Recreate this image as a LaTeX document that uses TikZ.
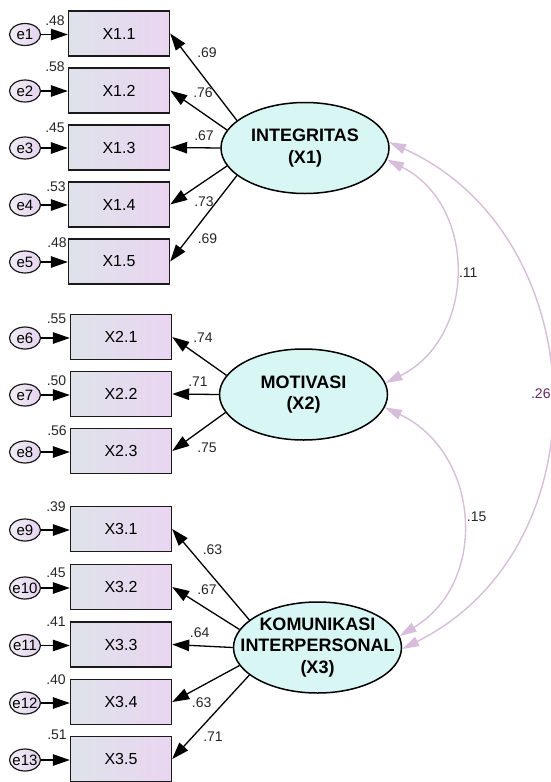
\documentclass[tikz,border=0pt]{standalone}
\usepackage{fontspec}
\setmainfont{Liberation Sans}
\usetikzlibrary{arrows.meta,shapes.geometric}
\definecolor{boxL}{HTML}{DEE3EA}
\definecolor{boxR}{HTML}{EAD5F1}
\definecolor{latfill}{HTML}{D8F6F3}
\definecolor{errL}{HTML}{F1EDF4}
\definecolor{errR}{HTML}{E4D3EE}
\definecolor{covc}{HTML}{D6BDD9}
\definecolor{labpurple}{HTML}{5E2A62}
\definecolor{edgec}{HTML}{1A1A1A}
\begin{document}
\begin{tikzpicture}[x=1pt,y=-1pt,
 obs/.style={draw=edgec, line width=1.4pt, left color=boxL, right color=boxR,
   minimum width=101pt, minimum height=45pt, inner sep=0pt, font=\fontsize{16}{19}\selectfont},
 err/.style={ellipse, draw=edgec, line width=1.2pt, left color=errL, right color=errR,
   minimum width=31pt, minimum height=22pt, inner sep=0pt},
 errtxt/.style={inner sep=0pt, font=\fontsize{15}{18}\selectfont},
 lat/.style={ellipse, draw=black, line width=1.5pt, fill=latfill,
   minimum width=168pt, minimum height=91pt, inner sep=0pt},
 lattxt/.style={inner sep=0pt, align=center, font=\fontsize{18}{21.5}\selectfont\bfseries},
 load/.style={draw=black, line width=1.3pt, -{Triangle[length=17pt,width=11.5pt]}},
 cov/.style={draw=covc, line width=1.4pt, {Triangle[length=17pt,width=10pt]}-{Triangle[length=17pt,width=10pt]}},
 coef/.style={font=\fontsize{14}{16}\selectfont, inner sep=0pt, text=black!85},
]
\useasboundingbox (0,0) rectangle (551,782);

% latent variables
\node[lat] (x1) at (305,148) {};
\node[lattxt] (x1t) at (x1) {INTEGRITAS\\(X1)};
\node[lat] (x2) at (303.5,394.5) {};
\node[lattxt] (x2t) at (x2) {MOTIVASI\\(X2)};
\node[lat] (x3) at (317.5,647.5) {};
\node[lattxt] (x3t) at (x3) {KOMUNIKASI\\INTERPERSONAL\\(X3)};

% observed boxes
\node[obs] (b11) at (119,33.5) {X1.1};
\node[obs] (b12) at (119,90.5) {X1.2};
\node[obs] (b13) at (119,147.5) {X1.3};
\node[obs] (b14) at (119,204.5) {X1.4};
\node[obs] (b15) at (119,261.5) {X1.5};
\node[obs] (b21) at (121,337) {X2.1};
\node[obs] (b22) at (121,394) {X2.2};
\node[obs] (b23) at (121,451) {X2.3};
\node[obs] (b31) at (121,529) {X3.1};
\node[obs] (b32) at (121,587) {X3.2};
\node[obs] (b33) at (121,644.5) {X3.3};
\node[obs] (b34) at (121,702) {X3.4};
\node[obs] (b35) at (121,759) {X3.5};

% error terms
\foreach \n/\b/\y in {1/b11/34.5,2/b12/91,3/b13/148,4/b14/205,5/b15/262,
                      6/b21/338,7/b22/395,8/b23/452,
                      9/b31/530,10/b32/588,11/b33/645.5,12/b34/703,13/b35/760}{
  \node[err, label={[errtxt]center:e\n}] (e\n) at (25,\y) {};
  \draw[load] (e\n.east) -- (\b.west|-e\n.east);
}

% loadings
\draw[load] (x1.158) -- (b11.east);
\draw[load] (x1.167) -- (b12.east);
\draw[load] (x1.180) -- (b13.east);
\draw[load] (x1.193) -- (b14.east);
\draw[load] (x1.202) -- (b15.east);
\draw[load] (x2.166) -- (b21.east);
\draw[load] (x2.180) -- (b22.east);
\draw[load] (x2.193.5) -- (b23.east);
\draw[load] (x3.158.7) -- (b31.east);
\draw[load] (x3.167.6) -- (b32.east);
\draw[load] (x3.180) -- (b33.east);
\draw[load] (x3.193) -- (b34.east);
\draw[load] (x3.202) -- (b35.east);

% loading coefficients
\node[coef] (c11) at (207,53) {.69};
\node[coef] (c12) at (203,93) {.76};
\node[coef] (c13) at (204,136) {.67};
\node[coef] (c14) at (204,202) {.73};
\node[coef] (c15) at (207.5,239) {.69};
\node[coef] (c21) at (203,338) {.74};
\node[coef] (c22) at (198,382) {.71};
\node[coef] (c23) at (207,448) {.75};
\node[coef] (c31) at (212.5,550) {.63};
\node[coef] (c32) at (207,590) {.67};
\node[coef] (c33) at (199.7,633) {.64};
\node[coef] (c34) at (201.7,702.5) {.63};
\node[coef] (c35) at (213,736.7) {.71};

% squared multiple correlations
\node[coef] (r11) at (55,21) {.48};
\node[coef] (r12) at (55,67) {.58};
\node[coef] (r13) at (55,127.5) {.45};
\node[coef] (r14) at (56,186.7) {.53};
\node[coef] (r15) at (57,242.5) {.48};
\node[coef] (r21) at (56.5,318.3) {.55};
\node[coef] (r22) at (56.5,381) {.50};
\node[coef] (r23) at (57,431) {.56};
\node[coef] (r31) at (56,506.7) {.39};
\node[coef] (r32) at (56,572.5) {.45};
\node[coef] (r33) at (56,621.3) {.41};
\node[coef] (r34) at (56,680) {.40};
\node[coef] (r35) at (57,734.5) {.51};

% covariances
\draw[cov] (x1.4) .. controls +(205,92) and +(206,-103) .. (x3.-1);
\draw[cov] (x1.-8) .. controls +(91,46) and +(91,-45) .. (x2.8.5);
\draw[cov] (x2.-9) .. controls +(95,45) and +(90,-54) .. (x3.8.4);
\node[coef] (k12) at (468.3,273) {.11};
\node[coef] (k23) at (476.7,516.7) {.15};
\node[coef, text=labpurple] (k13) at (540.8,393.3) {.26};
\end{tikzpicture}
\end{document}
